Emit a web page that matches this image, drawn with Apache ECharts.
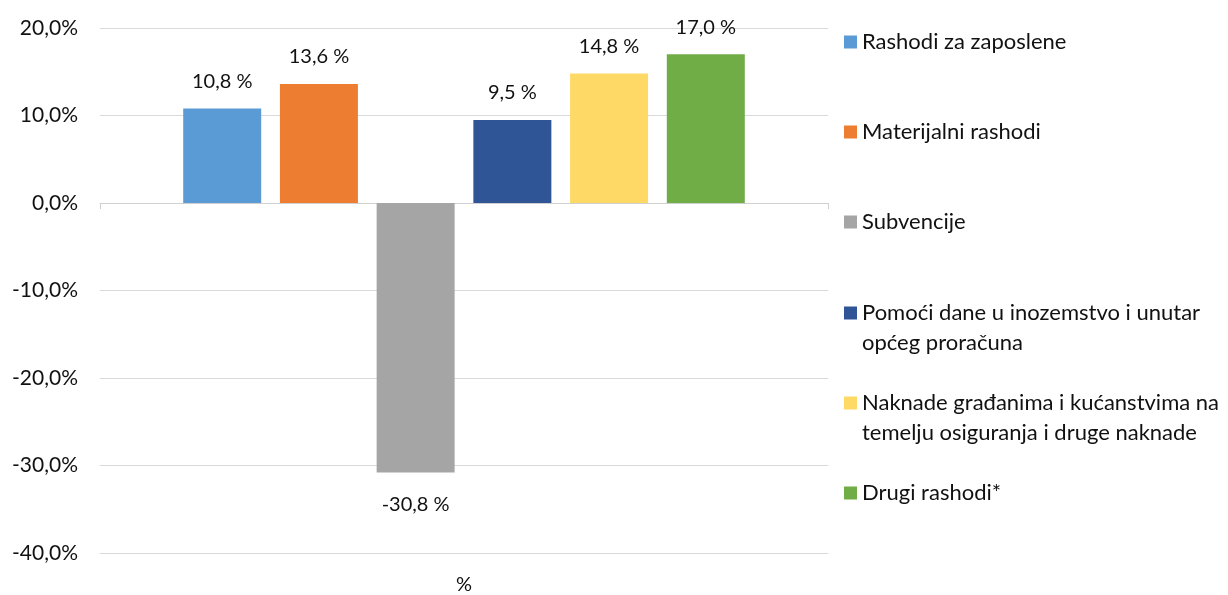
<!DOCTYPE html>
<html><head><meta charset="utf-8">
<script src="https://cdn.jsdelivr.net/npm/echarts@6/dist/echarts.min.js"></script>
<style>html,body{margin:0;padding:0;background:#fff}#c{width:1228px;height:595px}</style>
</head><body><div id="c"></div>
<script>
const categories = ['%'];
const seriesNames = ['Rashodi za zaposlene','Materijalni rashodi','Subvencije','Pomoći dane u inozemstvo i unutar općeg proračuna','Naknade građanima i kućanstvima na temelju osiguranja i druge naknade','Drugi rashodi*'];
const legendLabels = ['Rashodi za zaposlene','Materijalni rashodi','Subvencije','Pomoći dane u inozemstvo i unutar\nopćeg proračuna','Naknade građanima i kućanstvima na\ntemelju osiguranja i druge naknade','Drugi rashodi*'];
const values = [10.8, 13.6, -30.8, 9.5, 14.8, 17.0];
const colors = ['#5B9BD5','#ED7D31','#A5A5A5','#2F5597','#FFD966','#70AD47'];
const yTicks = {min:-40, max:20, interval:10};

const FONT = 'Lato';
const fmt = v => v.toFixed(1).replace('.', ',');
const chart = echarts.init(document.getElementById('c'));
const legendCenters = [42, 132, 222, 313, 403, 493];
const legends = seriesNames.map((n,i)=>{
  const two = legendLabels[i].includes('\n');
  return {
    data:[n], left:844, top: two ? legendCenters[i]-45 : legendCenters[i]-15, padding:0,
    icon:'rect', itemWidth:13, itemHeight:13, itemGap:4, selectedMode:false,
    formatter: ()=> two ? '\n' + legendLabels[i] : legendLabels[i],
    textStyle:{fontFamily:FONT, fontSize:22, color:'#111', lineHeight:30}
  };
});
chart.setOption({
  animation:false,
  textStyle:{fontFamily:FONT},
  legend: legends,
  grid:{left:100, right:400, top:28, bottom:42, containLabel:false, outerBoundsMode:'none'},
  xAxis:[
    {type:'category', data:categories, axisLine:{onZero:true, lineStyle:{color:'#d0d0d0'}},
     axisTick:{show:true, length:6, lineStyle:{color:'#d0d0d0'}}, axisLabel:{show:false}},
    {type:'category', data:categories, position:'bottom', axisLine:{show:false}, axisTick:{show:false},
     axisLabel:{fontFamily:FONT, fontSize:20, color:'#111', margin:22}}
  ],
  yAxis:{type:'value', min:yTicks.min, max:yTicks.max, interval:yTicks.interval,
    axisLine:{show:false}, axisTick:{show:false},
    splitLine:{lineStyle:{color:'#d9d9d9', width:1}},
    axisLabel:{fontFamily:FONT, fontSize:21, color:'#111', margin:22, formatter:v=>fmt(v)+'%'}},
  series: seriesNames.map((n,i)=>({
    name:n, type:'bar', xAxisIndex:0, data:[values[i]], barWidth:78, barGap:'24%',
    itemStyle:{color:colors[i]},
    label:{show:true, position: values[i]<0 ? 'bottom' : 'top', distance: values[i]<0 ? 22 : 17,
      fontFamily:FONT, fontSize:20, color:'#111', formatter:p=>fmt(p.value)+' %'}
  }))
});
</script></body></html>
